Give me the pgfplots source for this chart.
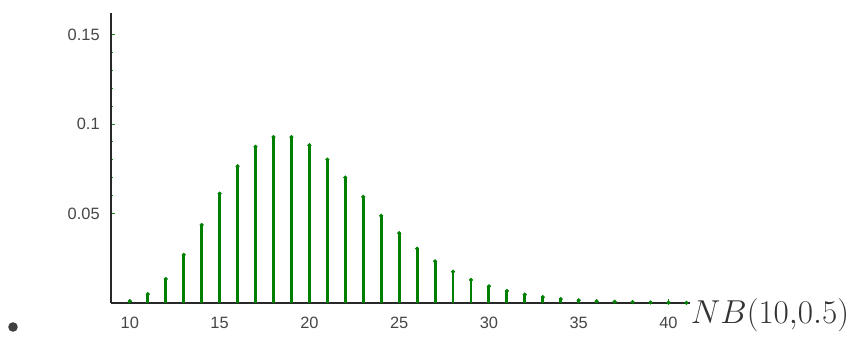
\documentclass[border=0pt]{standalone}
\usepackage{pgfplots}
\pgfplotsset{compat=1.18}
\usepackage{fontspec}
\setmainfont{Liberation Sans}
\definecolor{stem}{RGB}{0,128,0}
\definecolor{ticklab}{RGB}{70,70,70}
\definecolor{axisc}{RGB}{40,40,40}
\begin{document}
\begin{tikzpicture}
\useasboundingbox (0,0) rectangle (648pt,258.75pt);
\begin{axis}[
  scale only axis,
  width=434.25pt, height=217.5pt,
  at={(83.25pt,31.5pt)}, anchor=south west,
  xmin=8.95, xmax=41.2,
  ymin=0, ymax=0.162,
  axis lines=left,
  axis line style={-, axisc, line width=1.1pt},
  xtick={10,15,20,25,30,35,40},
  ytick={0.05,0.1,0.15},
  yticklabels={0.05,0.1,0.15},
  scaled y ticks=false,
  minor y tick num=4,
  tick align=inside,
  major tick length=3pt,
  minor tick length=1.6pt,
  every tick/.style={stem!70!gray, line width=0.6pt},
  /pgf/number format/assume math mode=true,
  tick label style={text=ticklab, font=\fontsize{12.3}{14}\selectfont},
  xticklabel style={yshift=-7pt},
  yticklabel style={xshift=-5pt},
  clip=false,
]
\addplot+[ycomb, draw=stem, line width=2.2pt, mark=*, mark size=1.35pt,
  mark options={fill=stem, draw=stem, line width=0.4pt}] coordinates {
(10,0.00098) (11,0.0049) (12,0.0134) (13,0.0269) (14,0.0436) (15,0.0611)
(16,0.0764) (17,0.0873) (18,0.0927) (19,0.0927) (20,0.0881) (21,0.0801)
(22,0.0701) (23,0.0593) (24,0.0487) (25,0.0390) (26,0.0304) (27,0.0233)
(28,0.0175) (29,0.0129) (30,0.0093) (31,0.0067) (32,0.0047) (33,0.0033)
(34,0.0022) (35,0.0015) (36,0.0010) (37,0.0007) (38,0.0005) (39,0.0003)
(40,0.0002) (41,0.0001)
};
\end{axis}
\node[anchor=base west, inner sep=0pt, text=black!80, font=\fontsize{26.5}{30}\selectfont] at (518pt,15.75pt) {$NB(10{,}0.5)$};
\fill[black!75] (9.75pt,13.5pt) circle (3.6pt);
\end{tikzpicture}
\end{document}
